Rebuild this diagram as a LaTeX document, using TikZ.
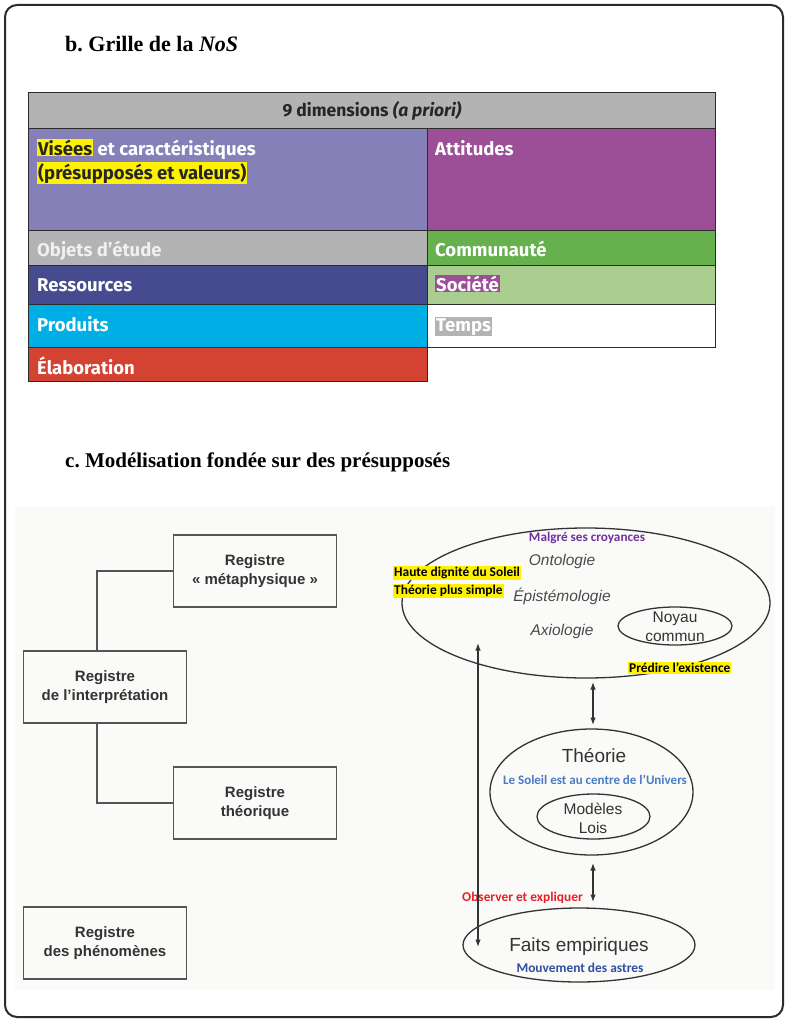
\documentclass[tikz,border=0pt]{standalone}
\usepackage{fontspec}
\setmainfont{Liberation Serif}
\newfontfamily\tabfont{Fira Sans}
\newfontfamily\arialf{Liberation Sans}
\newfontfamily\calf{Carlito}
\usetikzlibrary{arrows.meta,shapes.geometric}
\frenchspacing
\definecolor{hdr}{HTML}{B3B3B3}
\definecolor{lav}{HTML}{8581B8}
\definecolor{purp}{HTML}{9C4F96}
\definecolor{grn}{HTML}{66B04E}
\definecolor{dblue}{HTML}{464A8F}
\definecolor{lgrn}{HTML}{A9CE8F}
\definecolor{cyantab}{HTML}{00AEE6}
\definecolor{redtab}{HTML}{D44231}
\definecolor{yel}{HTML}{FFF200}
\definecolor{tline}{HTML}{2B2B2B}
\definecolor{dtext}{HTML}{262626}
\definecolor{boxline}{HTML}{555555}
\definecolor{gtext}{HTML}{333333}
\definecolor{itext}{HTML}{4A4A4A}
\definecolor{violet}{HTML}{7030A0}
\definecolor{lblue}{HTML}{4A7CC4}
\definecolor{mblue}{HTML}{2E4FA0}
\definecolor{redlab}{HTML}{E8202A}
\definecolor{figbg}{HTML}{FAFAF8}
\newcommand\hlb[2]{{\setlength{\fboxsep}{1pt}\colorbox{#1}{#2}}}
\tikzset{
  cell/.style={draw=tline, line width=1.3pt, anchor=north west, inner sep=0pt},
  celltxt/.style={font=\tabfont\bfseries\fontsize{18.5}{21}\selectfont, text=white, anchor=base west, inner sep=0pt},
  title/.style={font=\bfseries\fontsize{22}{25}\selectfont, text=black, anchor=base west, inner sep=0pt},
  regbox/.style={draw=boxline, line width=1.4pt, minimum width=163, minimum height=72, inner sep=0pt},
  regtxt/.style={font=\arialf\bfseries\fontsize{15}{19.5}\selectfont, text=gtext, align=center},
  conn/.style={draw=boxline, line width=1.4pt},
  ell/.style={ellipse, draw=gtext, line width=1.3pt, inner sep=0pt},
  itl/.style={font=\arialf\itshape\fontsize{15.5}{18}\selectfont, text=itext, inner sep=0pt},
  rg/.style={font=\arialf\fontsize{15.5}{19}\selectfont, text=gtext, inner sep=0pt, align=center},
  big/.style={font=\arialf\fontsize{19}{22}\selectfont, text=gtext, inner sep=0pt},
  cal/.style={font=\calf\bfseries\fontsize{13.4}{15}\selectfont, inner sep=0pt},
  dbl/.style={{Latex[length=7.5pt,width=5.5pt]}-{Latex[length=7.5pt,width=5.5pt]}, line width=1.3pt, draw=gtext}
}
\begin{document}
\begin{tikzpicture}[x=1pt,y=-1pt]
\useasboundingbox (0,0) rectangle (789,1022);
% outer frame
\draw[line width=2pt, draw=tline, rounded corners=12pt] (5,5) rectangle (783,1017);
% titles
\node[title] (tb) at (65,52) {b. Grille de la \textit{NoS}};
\node[title, font=\bfseries\fontsize{21}{25}\selectfont] (tc) at (65,467) {c. Modélisation fondée sur des présupposés};
% table
\node[cell, fill=hdr, minimum width=687, minimum height=36] (h) at (28,92) {};
\node[cell, fill=lav, minimum width=399, minimum height=102] (vis) at (28,128) {};
\node[cell, fill=purp, minimum width=288, minimum height=102] (att) at (427,128) {};
\node[cell, fill=hdr, minimum width=399, minimum height=35] (obj) at (28,230) {};
\node[cell, fill=grn, minimum width=288, minimum height=35] (com) at (427,230) {};
\node[cell, fill=dblue, minimum width=399, minimum height=39] (res) at (28,265) {};
\node[cell, fill=lgrn, minimum width=288, minimum height=39] (soc) at (427,265) {};
\node[cell, fill=cyantab, minimum width=399, minimum height=43] (pro) at (28,304) {};
\node[cell, fill=white, minimum width=288, minimum height=43] (tem) at (427,304) {};
\node[cell, fill=redtab, minimum width=399, minimum height=34] (ela) at (28,347) {};
% table texts
\node[celltxt, text=dtext, anchor=base, font=\tabfont\bfseries\fontsize{17.5}{21}\selectfont] (th) at (372,117) {9 dimensions \textit{(a priori)}};
\node[celltxt] (t1) at (37,155) {\hlb{yel}{\textcolor{dtext}{Visées}} et caractéristiques};
\node[celltxt] (t2) at (37,179) {\hlb{yel}{\textcolor{dtext}{(présupposés et valeurs)}}};
\node[celltxt] (t3) at (435,155) {Attitudes};
\node[celltxt, text=white!94!black] (t4) at (37,256) {Objets d’étude};
\node[celltxt] (t5) at (435,256) {Communauté};
\node[celltxt] (t6) at (37,291) {Ressources};
\node[celltxt] (t7) at (435,291) {\hlb{purp}{Société}};
\node[celltxt] (t8) at (37,331) {Produits};
\node[celltxt] (t9) at (435,331) {\hlb{hdr}{Temps}};
\node[celltxt] (t10) at (37,374) {Élaboration};
% lower figure background
\fill[figbg] (15,507) rectangle (775,990);
% left registers
\node[regbox] (rmeta) at (255,571) {};
\node[regbox] (rint) at (105,687) {};
\node[regbox] (rtheo) at (255,803) {};
\node[regbox] (rphen) at (105,943) {};
\node[regtxt] (lmeta) at (rmeta.center) {Registre\\« métaphysique »};
\node[regtxt] (lint) at (rint.center) {Registre\\de l’interprétation};
\node[regtxt] (ltheo) at (rtheo.center) {Registre\\théorique};
\node[regtxt] (lphen) at (rphen.center) {Registre\\des phénomènes};
\coordinate (cx) at (97,0);
\draw[conn] (rint.north -| cx) |- (rmeta.west);
\draw[conn] (rint.south -| cx) |- (rtheo.west);
% right: ellipses
\node[ell, minimum width=368, minimum height=150] (emeta) at (586,603) {};
\node[ell, minimum width=114, minimum height=38] (enoy) at (675,626) {};
\node[ell, minimum width=203, minimum height=126] (etheo) at (591.5,792) {};
\node[ell, minimum width=113, minimum height=45] (emod) at (593.5,816.5) {};
\node[ell, minimum width=232, minimum height=74] (efaits) at (579,945) {};
% texts in big ellipse
\node[cal, text=violet, font=\calf\bfseries\fontsize{13.2}{15}\selectfont] (lmal) at (587,538) {Malgré ses croyances};
\node[itl] (lont) at (562,561) {Ontologie};
\node[itl] (lepi) at (562,596) {Épistémologie};
\node[itl] (laxi) at (562,631) {Axiologie};
\node[rg] (lnoy) at (675,627) {Noyau\\commun};
\node[cal, anchor=west] (lhau) at (393,573) {\hlb{yel}{Haute dignité du Soleil}};
\node[cal, anchor=west] (lsim) at (393,591) {\hlb{yel}{Théorie plus simple}};
\node[cal, anchor=west] (lpre) at (628,668) {\hlb{yel}{Prédire l’existence}};
% theory
\node[big] (ltheo2) at (594,756) {Théorie};
\node[cal, text=lblue, font=\calf\bfseries\fontsize{13}{15}\selectfont] (lsol) at (595,780) {Le Soleil est au centre de l’Univers};
\node[rg] (lmod) at (593,818) {Modèles\\Lois};
% faits
\node[big] (lfaits) at (579,947) {Faits empiriques};
\node[cal, text=mblue] (lmouv) at (580,968) {Mouvement des astres};
\node[cal, text=redlab, anchor=west] (lobs) at (462,898) {Observer et expliquer};
% arrows
\coordinate (a1t) at (593,682);
\coordinate (a1b) at (593,725);
\coordinate (a2t) at (593,863);
\coordinate (a2b) at (593,902);
\coordinate (a3t) at (478,643);
\coordinate (a3b) at (478,947);
\draw[dbl] (a1t) -- (a1b);
\draw[dbl] (a2t) -- (a2b);
\draw[dbl] (a3t) -- (a3b);
\end{tikzpicture}
\end{document}
